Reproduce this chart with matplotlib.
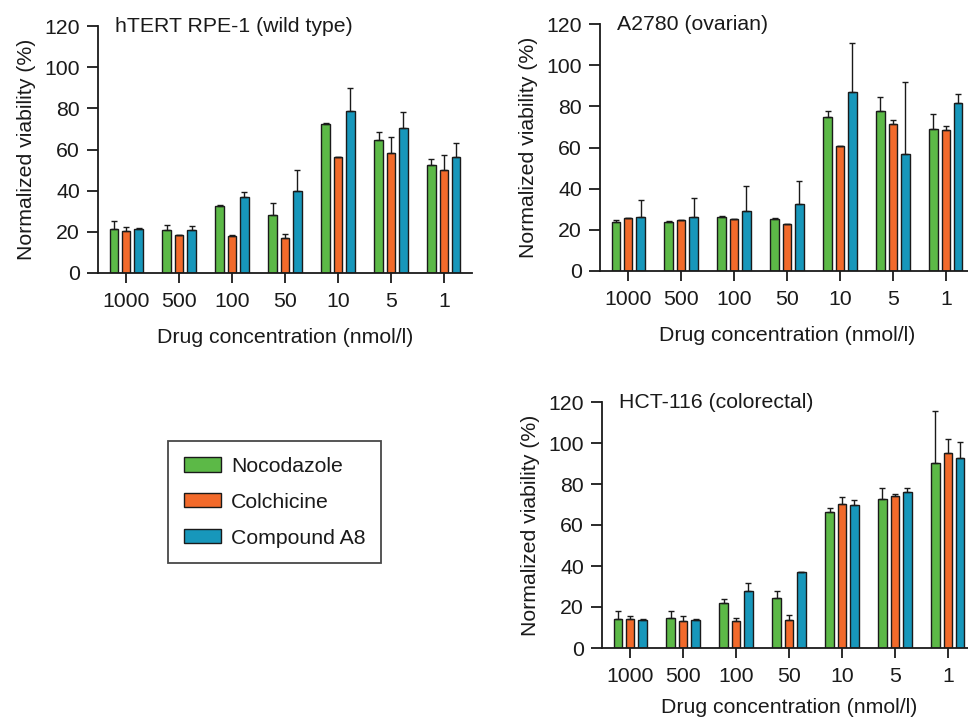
import numpy as np
import matplotlib
matplotlib.use('Agg')
import matplotlib.pyplot as plt
from matplotlib.patches import Patch

plt.rcParams['font.family'] = ['Liberation Sans', 'DejaVu Sans']
plt.rcParams['font.size'] = 15.3
plt.rcParams['text.color'] = '#1a1a1a'
plt.rcParams['axes.labelcolor'] = '#1a1a1a'
plt.rcParams['xtick.color'] = '#1a1a1a'
plt.rcParams['ytick.color'] = '#1a1a1a'

concentrations = ['1000', '500', '100', '50', '10', '5', '1']
drugs = ['Nocodazole', 'Colchicine', 'Compound A8']
colors = ['#5cb947', '#f26a2b', '#1797bb']

# hTERT RPE-1 (wild type)
rpe_noc = [21.4, 20.7, 32.6, 28.0, 72.4, 64.5, 52.3]
rpe_noc_err = [3.9, 2.6, 0.3, 5.9, 0.4, 3.9, 3.1]
rpe_col = [20.3, 18.5, 18.0, 16.9, 56.2, 58.5, 49.9]
rpe_col_err = [2.1, 0.2, 0.3, 2.2, 0.1, 7.8, 7.6]
rpe_a8 = [21.4, 20.9, 37.1, 39.7, 78.9, 70.3, 56.2]
rpe_a8_err = [0.3, 1.8, 2.4, 10.5, 10.9, 7.7, 6.8]

# A2780 (ovarian)
a2780_noc = [24.0, 23.8, 26.4, 25.3, 74.7, 77.6, 69.2]
a2780_noc_err = [0.6, 0.3, 0.1, 0.5, 2.8, 6.8, 7.3]
a2780_col = [25.6, 24.6, 25.3, 22.9, 60.6, 71.6, 68.4]
a2780_col_err = [0.1, 0.1, 0.1, 0.1, 0.2, 1.7, 2.1]
a2780_a8 = [26.3, 26.3, 29.3, 32.7, 86.9, 57.0, 81.5]
a2780_a8_err = [8.2, 9.0, 11.9, 11.2, 23.8, 34.6, 4.6]

# HCT-116 (colorectal)
hct_noc = [14.2, 14.7, 21.8, 24.6, 66.5, 72.7, 90.3]
hct_noc_err = [3.9, 3.4, 2.2, 3.0, 2.0, 5.2, 25.3]
hct_col = [14.3, 13.2, 13.0, 13.7, 70.4, 74.0, 95.1]
hct_col_err = [1.5, 2.3, 1.7, 2.4, 3.5, 1.2, 7.0]
hct_a8 = [13.9, 13.9, 27.6, 37.0, 69.8, 76.3, 92.8]
hct_a8_err = [0.4, 0.1, 4.2, 0.2, 2.3, 1.6, 7.5]

panels = [
    ('hTERT RPE-1 (wild type)', [rpe_noc, rpe_col, rpe_a8],
     [rpe_noc_err, rpe_col_err, rpe_a8_err]),
    ('A2780 (ovarian)', [a2780_noc, a2780_col, a2780_a8],
     [a2780_noc_err, a2780_col_err, a2780_a8_err]),
    ('HCT-116 (colorectal)', [hct_noc, hct_col, hct_a8],
     [hct_noc_err, hct_col_err, hct_a8_err]),
]

W, H = 968, 720
fig = plt.figure(figsize=(W / 100, H / 100), dpi=100)

# позиции осей в пикселях: (левый край, y нуля, y отметки 120, отступ подписи x)
axes_px = [(98, 273, 26, 12), (600, 271, 24, 12), (602, 648, 402, 8)]
ax_width_px = 374

offsets = [-0.235, 0.0, 0.235]
bar_w = 0.155
x = np.arange(len(concentrations))

for (title, means, errs), (left, y0, y120, xpad) in zip(panels, axes_px):
    ax = fig.add_axes([left / W, 1 - y0 / H, ax_width_px / W, (y0 - y120) / H])
    for k in range(3):
        ax.bar(x + offsets[k], means[k], width=bar_w, color=colors[k],
               edgecolor='#1a1a1a', linewidth=1.0, zorder=2)
        # только верхняя половина планки погрешности
        ax.errorbar(x + offsets[k], means[k],
                    yerr=[np.zeros(len(x)), errs[k]], fmt='none',
                    ecolor='#1a1a1a', elinewidth=1.0, capsize=2,
                    capthick=1.0, zorder=3)
    ax.set_xlim(-0.53, 6.53)
    ax.set_ylim(0, 120)
    ax.set_yticks(range(0, 121, 20))
    ax.set_xticks(x)
    ax.set_xticklabels(concentrations)
    ax.spines['top'].set_visible(False)
    ax.spines['right'].set_visible(False)
    for s in ['left', 'bottom']:
        ax.spines[s].set_linewidth(1.3)
        ax.spines[s].set_color('#1a1a1a')
    ax.tick_params(axis='y', length=8, width=1.3, pad=5)
    ax.tick_params(axis='x', length=7, width=1.3, pad=7)
    ax.set_ylabel('Normalized viability (%)')
    ax.yaxis.set_label_coords(-0.167, 0.5)
    ax.set_xlabel('Drug concentration (nmol/l)', labelpad=xpad)
    ax.text(0.045, 1.0, title, transform=ax.transAxes, va='center', ha='left')

handles = [Patch(facecolor=c, edgecolor='#1a1a1a', linewidth=1.0) for c in colors]
leg = fig.legend(handles, drugs, loc='upper left',
                 bbox_to_anchor=(168 / W, 1 - 441 / H),
                 frameon=True, fancybox=False, edgecolor='#1a1a1a',
                 handlelength=1.74, handleheight=0.66, handletextpad=0.47,
                 labelspacing=0.79, borderpad=0.75, borderaxespad=0)
leg.get_frame().set_linewidth(1.3)

fig.savefig('out.png', dpi=100)
